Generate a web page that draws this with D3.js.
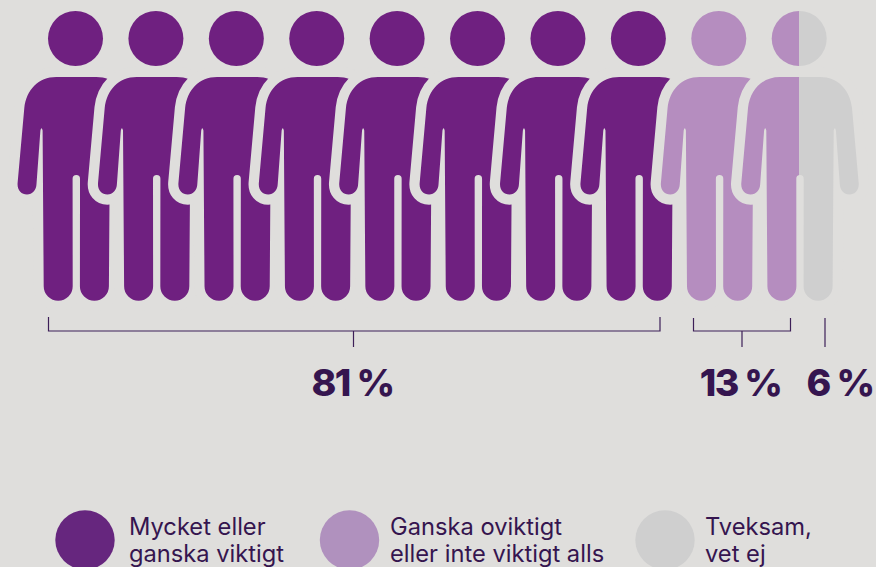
<!DOCTYPE html>
<html>
<head>
<meta charset="utf-8">
<script src="https://cdn.jsdelivr.net/npm/d3@7"></script>
<style>
html,body{margin:0;padding:0;background:#dfdedc;overflow:hidden}
svg{display:block}
</style>
</head>
<body>
<svg id="chart" width="876" height="567"></svg>
<script>
// Data
const categories = [["Mycket eller","ganska viktigt"],["Ganska oviktigt","eller inte viktigt alls"],["Tveksam,","vet ej"]];
const shareLabels = ["81 %","13 %","6 %"];
const personDark  = [1,1,1,1,1,1,1,1,0,0];
const personLight = [0,0,0,0,0,0,0,0,1,0.5];
const personGrey  = [0,0,0,0,0,0,0,0,0,0.5];
const figureColours = ["#6f2080","#b58dbf","#cfcfcf"];
const legendColours = ["#66267e","#b091be","#cfcfcf"];
const bg = "#dfdedc", ink = "#35154f", bracketInk = "#3d1f58";

const svg = d3.select("#chart");
const W = 876, H = 567;
svg.append("rect").attr("width",W).attr("height",H).attr("fill",bg);

const people = d3.range(personDark.length);
const x = d3.scaleLinear().domain([0,people.length-1]).range([75.5,799.2]);

// Person silhouette, built with d3.path around the body centre
function bodyPath(){
  const p = d3.path();
  p.moveTo(-20,77);
  p.lineTo(20,77);
  p.bezierCurveTo(38,77,50,90,52,108);
  p.lineTo(58.7,183);
  p.bezierCurveTo(59.3,190,55,194.5,49.3,194.5);
  p.bezierCurveTo(44,194.5,40,190,39.8,184);
  p.lineTo(35.9,130.5);
  p.quadraticCurveTo(34.8,126,33.7,130.5);
  p.lineTo(32.6,287);
  p.arc(18.1,286.3,14.5,0,Math.PI,false);
  p.lineTo(3.7,178.7);
  p.arc(0,178.7,3.7,0,Math.PI,true);
  p.lineTo(-3.6,286.3);
  p.arc(-18.1,286.3,14.5,0,Math.PI,false);
  p.lineTo(-33.7,130.5);
  p.quadraticCurveTo(-34.8,126,-35.9,130.5);
  p.lineTo(-39.8,184);
  p.bezierCurveTo(-40,190,-44,194.5,-49.3,194.5);
  p.bezierCurveTo(-55,194.5,-59.3,190,-58.7,183);
  p.lineTo(-52,108);
  p.bezierCurveTo(-50,90,-38,77,-20,77);
  p.closePath();
  return p.toString();
}
const body = bodyPath();
const defs = svg.append("defs");

const g = svg.selectAll("g.person").data(people).join("g")
  .attr("class","person")
  .attr("transform",d=>`translate(${x(d)},0)`);

// Clip for each colour part of a person
function partClip(i,k,x0,x1){
  const id = `c${i}-${k}`;
  defs.append("clipPath").attr("id",id).append("rect")
    .attr("x",x0).attr("width",x1-x0).attr("y",0).attr("height",H);
  return id;
}

g.each(function(i){
  const s = d3.select(this);
  // halo that cuts the previous figure
  s.append("path").attr("d",body).attr("transform","translate(0.8,0)")
    .attr("fill",bg).attr("stroke",bg).attr("stroke-width",20.5).attr("stroke-linejoin","round");
  const parts = [personDark[i],personLight[i],personGrey[i]];
  const frac = d3.scaleLinear().domain([0,1]).range([-70,70]);
  let acc = 0;
  parts.forEach((v,k)=>{
    if(v<=0) return;
    const id = partClip(i,k,frac(acc),frac(acc+v));
    acc += v;
    const part = s.append("g").attr("clip-path",`url(#${id})`);
    part.append("circle").attr("cx",0).attr("cy",38.5).attr("r",27.5).attr("fill",figureColours[k]);
    part.append("path").attr("d",body).attr("transform","translate(0.8,0)").attr("fill",figureColours[k]);
  });
});

// Brackets
const brackets = [
  {x0:48.5,x1:660,mid:353.5,top:317,y:331,stem:347},
  {x0:693.5,x1:790.5,mid:742,top:318,y:331,stem:347},
];
brackets.forEach(b=>{
  svg.append("path")
    .attr("d",`M${b.x0},${b.top}V${b.y}H${b.x1}V${b.top}M${b.mid},${b.y}V${b.stem}`)
    .attr("fill","none").attr("stroke",bracketInk).attr("stroke-width",1.2);
});
svg.append("line").attr("x1",825).attr("x2",825).attr("y1",318).attr("y2",347)
  .attr("stroke",bracketInk).attr("stroke-width",1.2);

// Share labels
const labelX = [352.5,740.5,840];
svg.selectAll("text.share").data(shareLabels).join("text")
  .attr("class","share")
  .attr("x",(d,i)=>labelX[i]).attr("y",396)
  .attr("text-anchor","middle")
  .attr("font-family","Inter, sans-serif").attr("font-weight",800).attr("font-size",37.5)
  .attr("letter-spacing",-1.6)
  .attr("fill",ink).text(d=>d);

// Legend
const legendX = [85,349.5,665];
const legendTextX = [129,390,705];
const lg = svg.selectAll("g.legend").data(categories).join("g").attr("class","legend");
lg.append("circle").attr("cx",(d,i)=>legendX[i]).attr("cy",540).attr("r",29.7).attr("fill",(d,i)=>legendColours[i]);
lg.each(function(d,i){
  d3.select(this).selectAll("text").data(d).join("text")
    .attr("x",legendTextX[i]).attr("y",(t,j)=>535+j*27)
    .attr("font-family","Inter, sans-serif").attr("font-size",23.7)
    .attr("fill",ink).text(t=>t);
});
</script>
</body>
</html>
